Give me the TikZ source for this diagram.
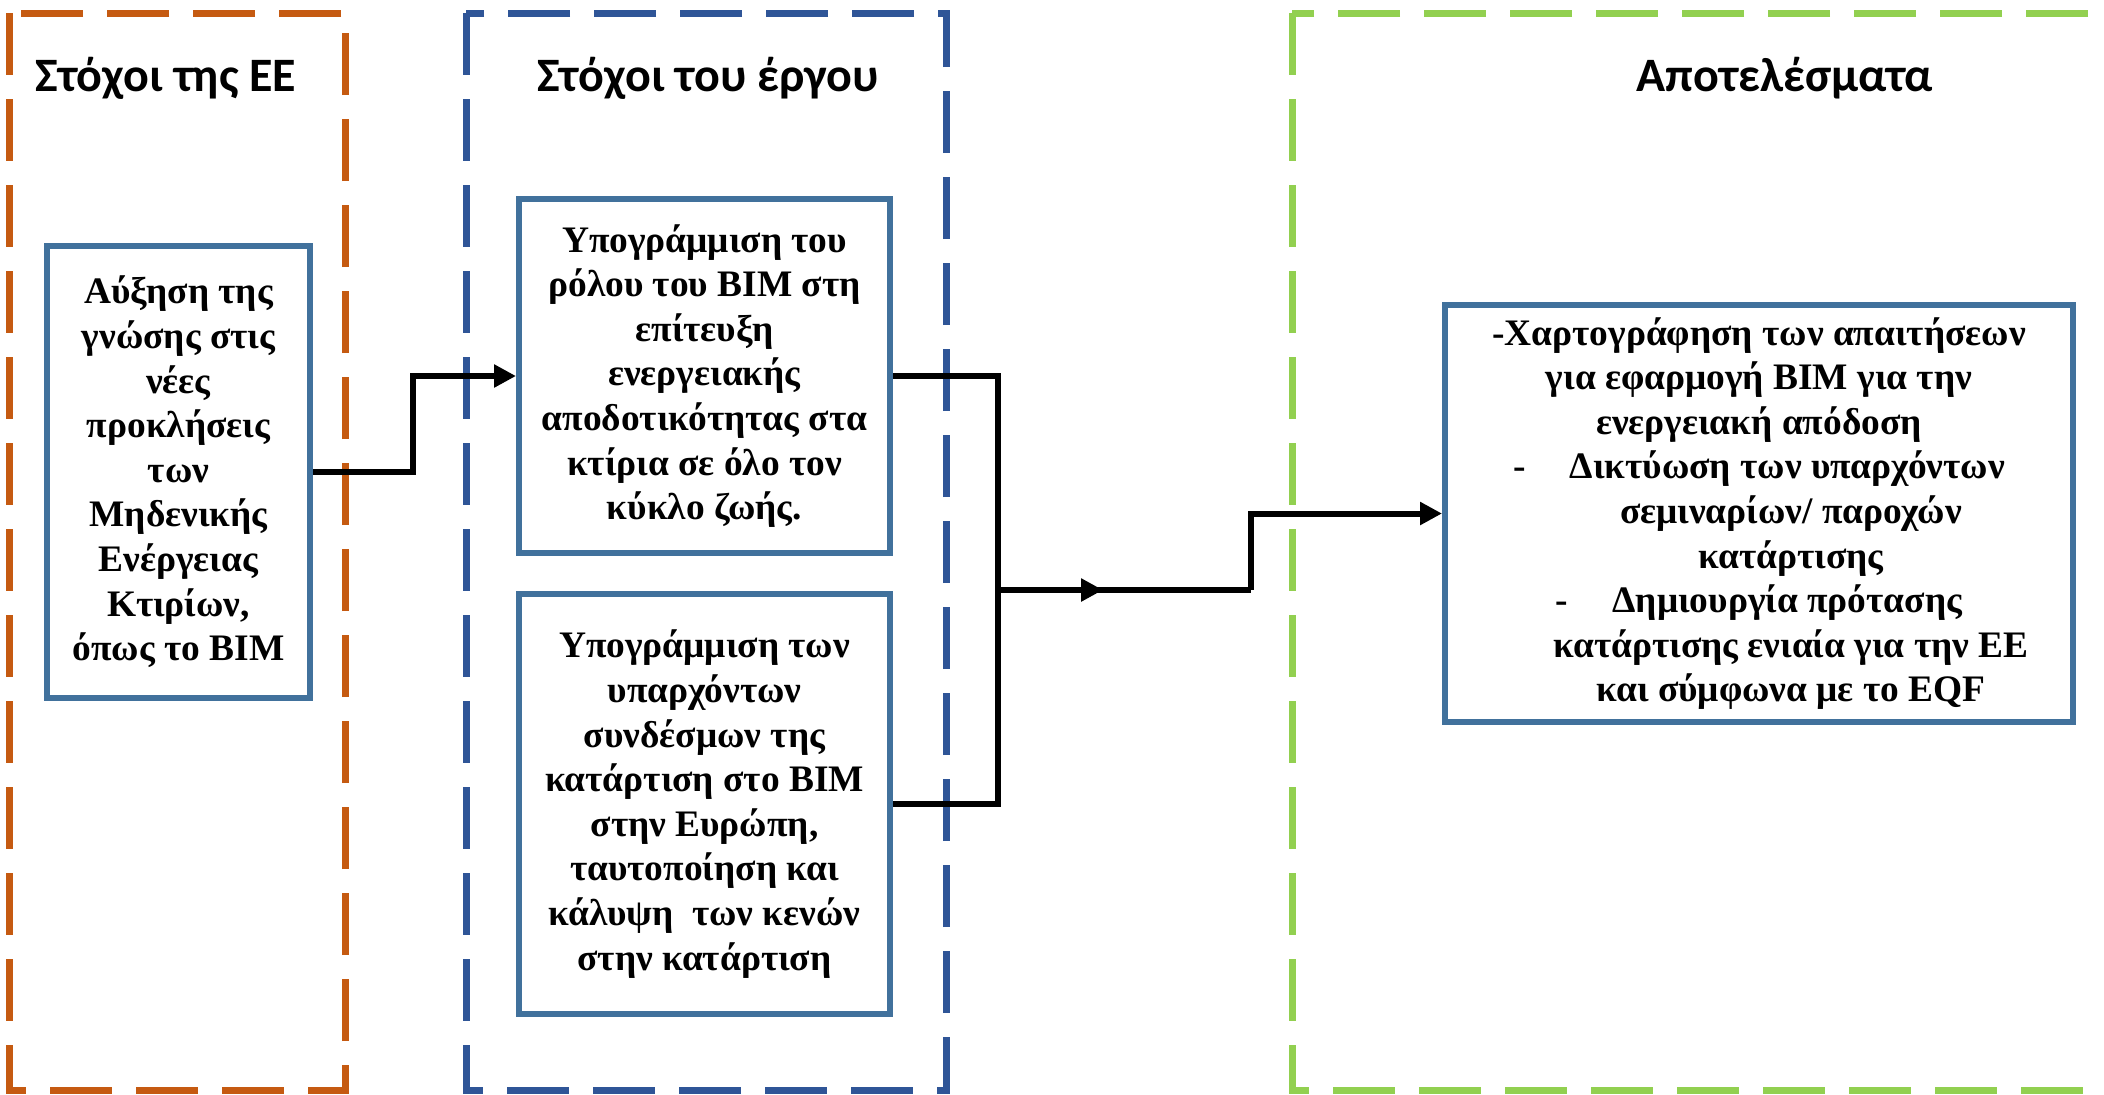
\documentclass[tikz,border=0pt]{standalone}
\usepackage{fontspec}
\setmainfont{Liberation Serif}
\newfontfamily\titlefont{Carlito}
\usetikzlibrary{arrows.meta}
\definecolor{euorange}{HTML}{C55A11}
\definecolor{projblue}{HTML}{2F5597}
\definecolor{resgreen}{HTML}{92D050}
\definecolor{boxblue}{HTML}{41719C}
\tikzset{
  frame/.style={line width=3.5pt, dash pattern=on 31pt off 12pt},
  title/.style={font=\titlefont\bfseries\fontsize{24}{28}\selectfont, anchor=center},
  goalbox/.style={draw=boxblue, line width=3pt, align=center, inner sep=0pt,
    font=\bfseries\fontsize{18.7}{22.3}\selectfont},
  conn/.style={line width=3pt},
  tip/.style={conn, -{Triangle[length=11pt,width=11pt]}},
}
\begin{document}
\begin{tikzpicture}[x=0.5pt,y=-0.5pt]
\useasboundingbox (0,0) rectangle (2104,1094);
% frames
\draw[frame, euorange] (9,13) rectangle (345,1090);
\draw[frame, projblue] (466,13) rectangle (946,1090);
\draw[frame, resgreen] (1292,13) rectangle (2118,1090);
% titles
\node[title] (t1) at (166,78) {Στόχοι της ΕΕ};
\node[title] (t2) at (708,78) {Στόχοι του έργου};
\node[title] (t3) at (1785,78) {Αποτελέσματα};
% boxes
\node[goalbox, minimum width=131.5pt, minimum height=226pt] (A) at (178.5,472)
  {Αύξηση της\\γνώσης στις\\νέες\\προκλήσεις\\των\\Μηδενικής\\Ενέργειας\\Κτιρίων,\\όπως το BIM};
\node[goalbox, minimum width=185.5pt, minimum height=177pt] (B) at (704.5,376)
  {Υπογράμμιση του\\ρόλου του BIM στη\\επίτευξη\\ενεργειακής\\αποδοτικότητας στα\\κτίρια σε όλο τον\\κύκλο ζωής.};
\node[goalbox, minimum width=185.5pt, minimum height=210pt] (C) at (704.5,804)
  {Υπογράμμιση των\\υπαρχόντων\\συνδέσμων της\\κατάρτιση στο BIM\\στην Ευρώπη,\\ταυτοποίηση και\\κάλυψη\ \ των κενών\\στην κατάρτιση};
\node[goalbox, minimum width=314pt, minimum height=208.5pt] (D) at (1759,513.5)
  {-Χαρτογράφηση των απαιτήσεων\\για εφαρμογή BIM για την\\ενεργειακή απόδοση\\
   -\hspace{22pt}Δικτύωση των υπαρχόντων\\
   \hspace*{32pt}σεμιναρίων/ παροχών\\\hspace*{32pt}κατάρτισης\\
   -\hspace{22pt}Δημιουργία πρότασης\\
   \hspace*{32pt}κατάρτισης ενιαία για την ΕΕ\\\hspace*{32pt}και σύμφωνα με το EQF};
% connectors
\coordinate (k1) at (413,472);
\coordinate (jx) at (998,590);
\coordinate (mid) at (1103,590);
\coordinate (k2) at (1251,590);
\draw[tip] (A.east) -- (k1) |- (B.west);
\draw[conn] (B.east) -| (jx);
\draw[conn] (C.east) -| (jx);
\draw[conn] (jx) -- (k2);
\draw[tip] (jx) -- (mid);
\draw[tip] (k2) |- (D.west);
\end{tikzpicture}
\end{document}
